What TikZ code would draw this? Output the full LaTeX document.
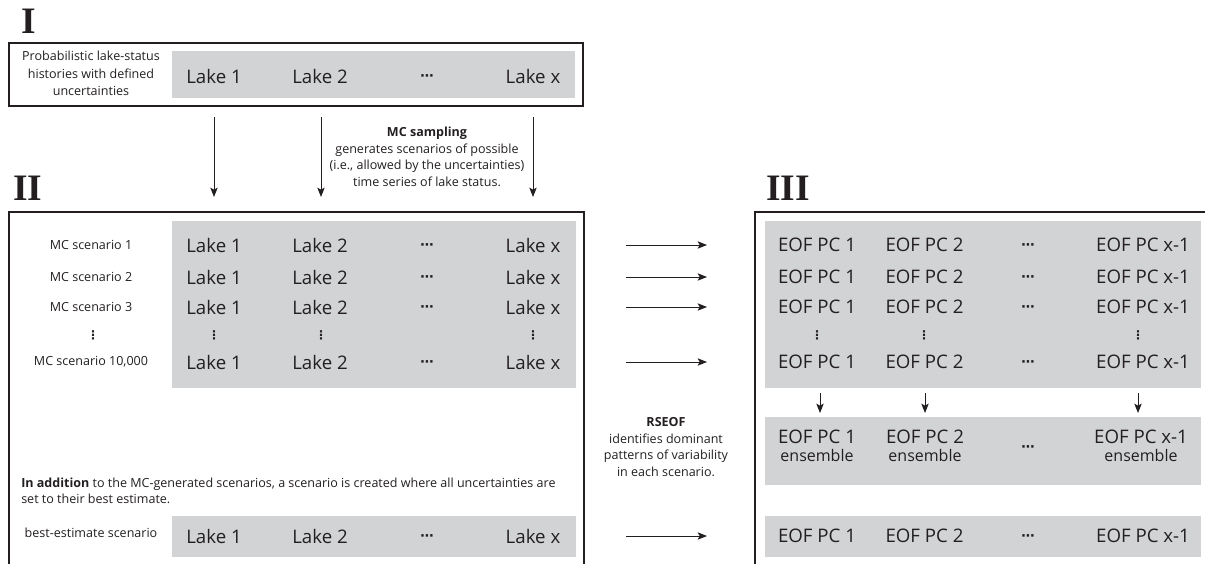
\documentclass[tikz,border=0pt]{standalone}
\usepackage{fontspec}
\setmainfont{Open Sans}
\newfontfamily\numfont{Liberation Serif}
\newfontfamily\dotfont{DejaVu Sans}
\usetikzlibrary{arrows.meta}
\definecolor{boxgray}{HTML}{D1D3D4}
\definecolor{ink}{HTML}{231F20}
\begin{document}
\begin{tikzpicture}[x=0.75pt,y=-0.75pt,
  frame/.style={draw=ink, line width=1.1pt},
  graybox/.style={fill=boxgray},
  big/.style={font=\fontsize{14}{16}\selectfont, text=ink, inner sep=0pt},
  small/.style={font=\fontsize{9.4}{12.4}\selectfont, text=ink, inner sep=0pt, align=center},
  numeral/.style={font=\numfont\bfseries\fontsize{28}{30}\selectfont, text=ink, inner sep=0pt, anchor=base west},
  arr/.style={draw=ink, line width=0.75pt, -{Stealth[length=7pt,width=5.5pt,inset=1.5pt]}},
  hdot/.style={inner sep=0pt, text=ink, font=\dotfont\bfseries\fontsize{10}{11}\selectfont},
  vdot/.style={inner sep=0pt, text=ink, font=\dotfont\bfseries\fontsize{9}{10}\selectfont},
]
\useasboundingbox (0,0) rectangle (1205,564);

% ---------- I ----------
\node[numeral] (numI) at (21,33) {I};
\draw[frame] (9,43) rectangle (583,106);
\fill[graybox] (172,51) rectangle (575,98);
\node[small, font=\fontsize{9.4}{13.1}\selectfont] (prob) at (91,73.5) {Probabilistic lake-status\\histories with defined\\uncertainties};
\node[big] (i1) at (214,76) {Lake 1};
\node[big] (i2) at (320,76) {Lake 2};
\node[hdot] (i3) at (427,78) {⋯};
\node[big] (i4) at (533,76) {Lake x};

% arrows I -> II
\foreach \x/\n in {214/a,321/b,533/c}{
  \coordinate (top\n) at (\x,117);
  \coordinate (bot\n) at (\x,197);
  \draw[arr] (top\n) -- (bot\n);
}
\node[small] (mc) at (427,157) {\textbf{MC sampling}\\generates scenarios of possible\\(i.e., allowed by the uncertainties)\\time series of lake status.};

% ---------- II ----------
\node[numeral] (numII) at (13,200) {II};
\draw[frame] (9,564) -- (9,212) -- (584,212) -- (584,564);
\fill[graybox] (172,221) rectangle (576,388);

% ---------- III ----------
\node[numeral] (numIII) at (766,200) {III};
\draw[frame] (755,564) -- (755,212) -- (1205,212);
\fill[graybox] (765,221) rectangle (1201,388);

\foreach \y/\lab/\n in {245/MC scenario 1/r1, 277/MC scenario 2/r2, 307/MC scenario 3/r3, 362/{MC scenario 10,000}/r4}{
  \node[small] (lab\n) at (91,\y) {\lab};
  \node[big] (l1\n) at (214,\y) {Lake 1};
  \node[big] (l2\n) at (320,\y) {Lake 2};
  \node[hdot] (l3\n) at (427,\y+2) {⋯};
  \node[big] (l4\n) at (533,\y) {Lake x};
  \coordinate (s\n) at (626,\y);
  \coordinate (t\n) at (707,\y);
  \draw[arr] (s\n) -- (t\n);
  \node[big] (e1\n) at (817,\y) {EOF PC 1};
  \node[big] (e2\n) at (924.5,\y) {EOF PC 2};
  \node[hdot] (e3\n) at (1028,\y+2) {⋯};
  \node[big] (e4\n) at (1143,\y) {EOF PC x-1};
}
% vertical dots row
\foreach \x/\n in {93/d0,214/d1,321/d2,533/d4,817/d5,924/d6,1138/d7}{
  \node[vdot] (\n) at (\x,335) {⋮};
}

% ensemble
\foreach \x/\n in {820/ea,925/eb,1138/ec}{
  \coordinate (es\n) at (\x,393);
  \coordinate (et\n) at (\x,413);
  \draw[arr] (es\n) -- (et\n);
}
\fill[graybox] (765,417) rectangle (1201,485);
\node[big, align=center] (en1) at (817,446) {EOF PC 1\\[-2.5pt]{\fontsize{12}{13}\selectfont ensemble}};
\node[big, align=center] (en2) at (925,446) {EOF PC 2\\[-2.5pt]{\fontsize{12}{13}\selectfont ensemble}};
\node[hdot] (en3) at (1028,449) {⋯};
\node[big, align=center] (en4) at (1141,446) {EOF PC x-1\\[-2.5pt]{\fontsize{12}{13}\selectfont ensemble}};

\node[small] (rseof) at (666,447) {\textbf{RSEOF}\\identifies dominant\\patterns of variability\\in each scenario.};

% best estimate
\node[small, align=left, anchor=west] (addn) at (21,491) {\textbf{In addition} to the MC-generated scenarios, a scenario is created where all uncertainties are\\set to their best estimate.};
\fill[graybox] (172,516) rectangle (576,557);
\fill[graybox] (765,516) rectangle (1201,557);
\node[small] (labbe) at (91,533) {best-estimate scenario};
\node[big] (b1) at (214,536) {Lake 1};
\node[big] (b2) at (320,536) {Lake 2};
\node[hdot] (b3) at (427,538) {⋯};
\node[big] (b4) at (533,536) {Lake x};
\coordinate (sbe) at (626,536);
\coordinate (tbe) at (707,536);
\draw[arr] (sbe) -- (tbe);
\node[big] (f1) at (817,536) {EOF PC 1};
\node[big] (f2) at (924.5,536) {EOF PC 2};
\node[hdot] (f3) at (1028,538) {⋯};
\node[big] (f4) at (1143,536) {EOF PC x-1};
\end{tikzpicture}
\end{document}
